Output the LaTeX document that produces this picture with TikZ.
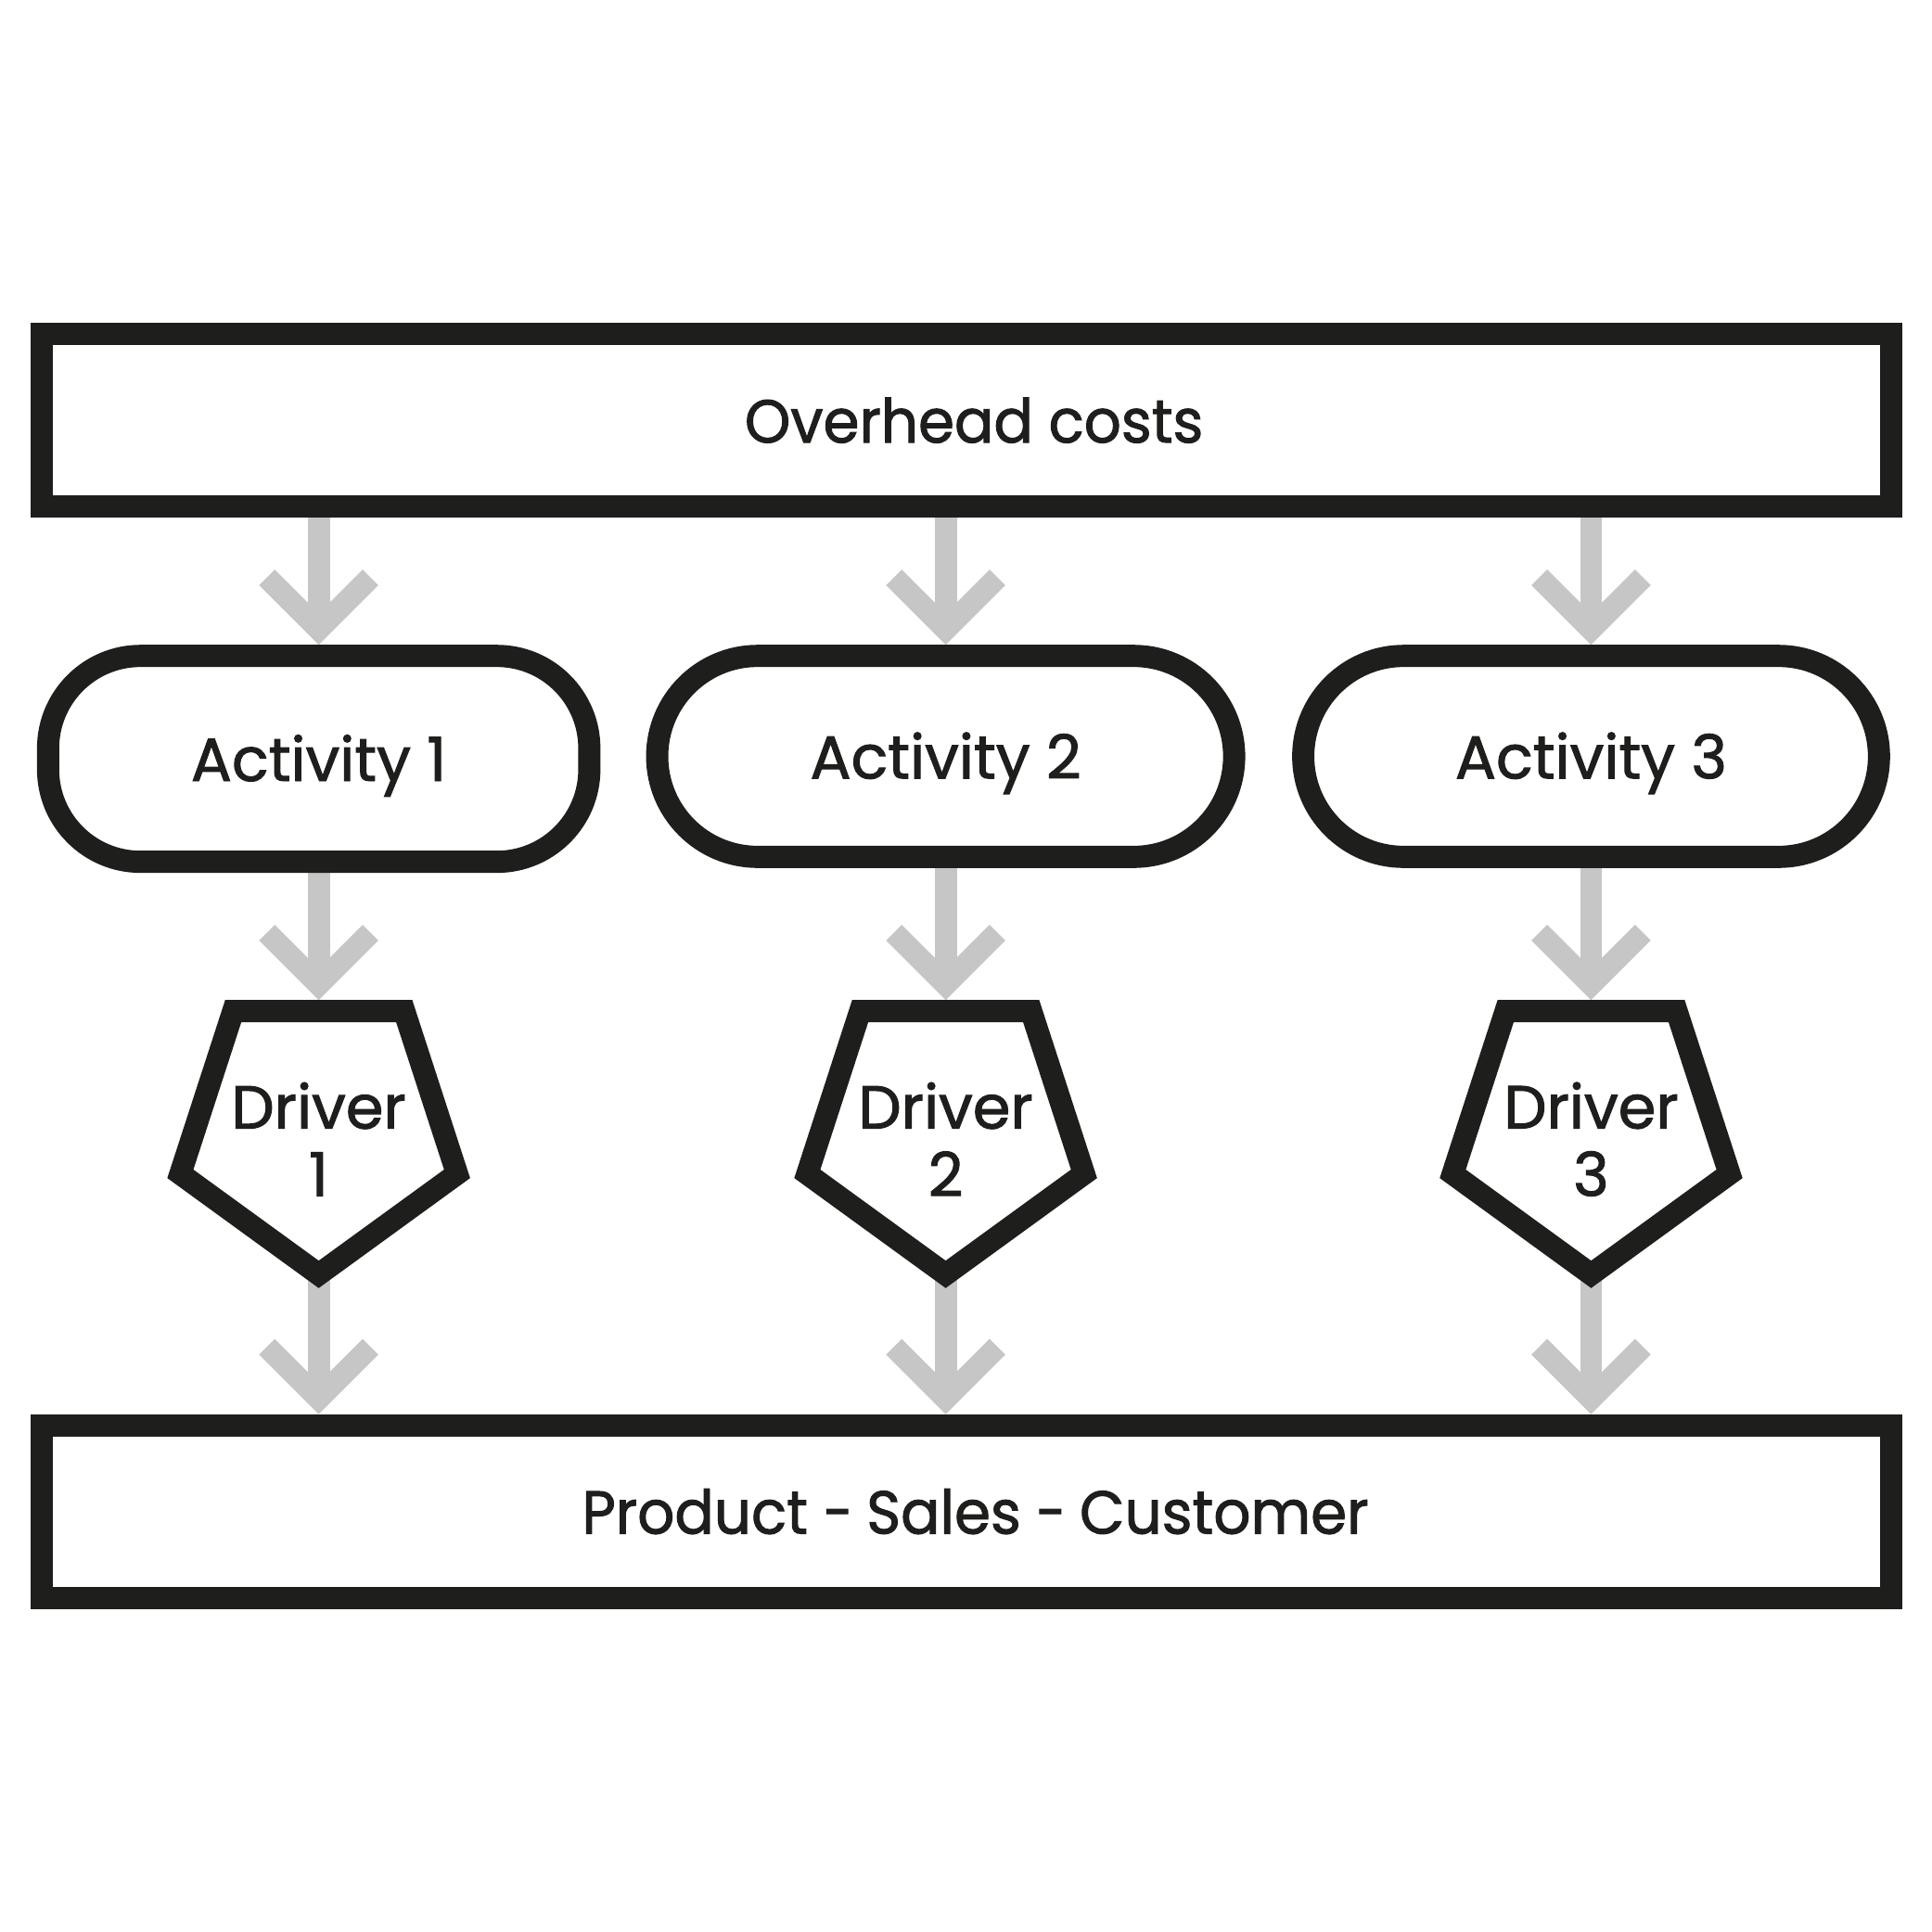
\documentclass[tikz,border=0pt]{standalone}
\usepackage{fontspec}
\usepackage{graphicx}
\setmainfont{Poppins}[FakeBold=1.5]
\usetikzlibrary{shapes.geometric,calc}
\definecolor{ink}{HTML}{1E1E1C}
\definecolor{arr}{HTML}{C6C6C6}
\pgfdeclarelayer{bg}
\pgfsetlayers{bg,main}
\newcommand\flowarr[2]{%
  \draw[shaft] (#1) -- ($(#2)+(0,-12.7)$);
  \draw[chev] ($(#2)+(-42,-54.7)$) -- ($(#2)+(0,-12.7)$) -- ($(#2)+(42,-54.7)$);
}
\newcommand\shortdash{\scalebox{0.7}[1]{–}}
\begin{document}
\begin{tikzpicture}[x=0.1mm,y=-0.1mm,
  txt/.style={text=ink, font=\fontsize{14}{15.6}\selectfont},
  box/.style={txt, draw=ink, line width=1.8mm, fill=white, inner sep=0pt,
    text height=10.2pt, text depth=0pt},
  narrow/.style={font=\fontsize{14}{15.6}\selectfont\addfontfeature{FakeStretch=0.96}},
  drv/.style={draw=ink, line width=1.8mm, fill=white, inner sep=0pt,
    regular polygon, regular polygon sides=5, shape border rotate=180,
    minimum size=23.6mm},
  shaft/.style={draw=arr, line width=1.8mm},
  chev/.style={draw=arr, line width=1.8mm, line join=miter}]
\useasboundingbox (0,0) rectangle (1567,1567);

\node[box, narrow, minimum width=150mm, minimum height=14mm] (oh) at (784,341) {\hspace*{1.2mm}Overhead costs};
\node[box, narrow, minimum width=150mm, minimum height=14mm] (psc) at (784,1226) {\hspace*{1.4mm}Product \shortdash{} Sales \shortdash{} Customer};

\node[box, minimum width=43.9mm, minimum height=16.7mm, rounded corners=7.5mm] (a1) at (258.5,615.5) {Activity 1};
\node[box, minimum width=46.8mm, minimum height=16.3mm, rounded corners=8.15mm] (a2) at (767,613.5) {Activity 2};
\node[box, minimum width=46.7mm, minimum height=16.3mm, rounded corners=8.15mm] (a3) at (1290.5,613.5) {Activity 3};

\node[drv] (d1) at (258.5,915.6) {};
\node[drv] (d2) at (767,915.6) {};
\node[drv] (d3) at (1290.5,915.6) {};
\node[txt, align=center] (t1) at (258.5,924) {Driver\\1};
\node[txt, align=center] (t2) at (767,924) {Driver\\2};
\node[txt, align=center] (t3) at (1290.5,924) {Driver\\3};

\begin{pgfonlayer}{bg}
  \flowarr{oh.center -| a1.center}{a1.north}
  \flowarr{oh.center -| a2.center}{a2.north}
  \flowarr{oh.center -| a3.center}{a3.north}
  \flowarr{a1.center}{d1.north}
  \flowarr{a2.center}{d2.north}
  \flowarr{a3.center}{d3.north}
  \flowarr{d1.center}{psc.north -| d1.center}
  \flowarr{d2.center}{psc.north -| d2.center}
  \flowarr{d3.center}{psc.north -| d3.center}
\end{pgfonlayer}
\end{tikzpicture}
\end{document}
